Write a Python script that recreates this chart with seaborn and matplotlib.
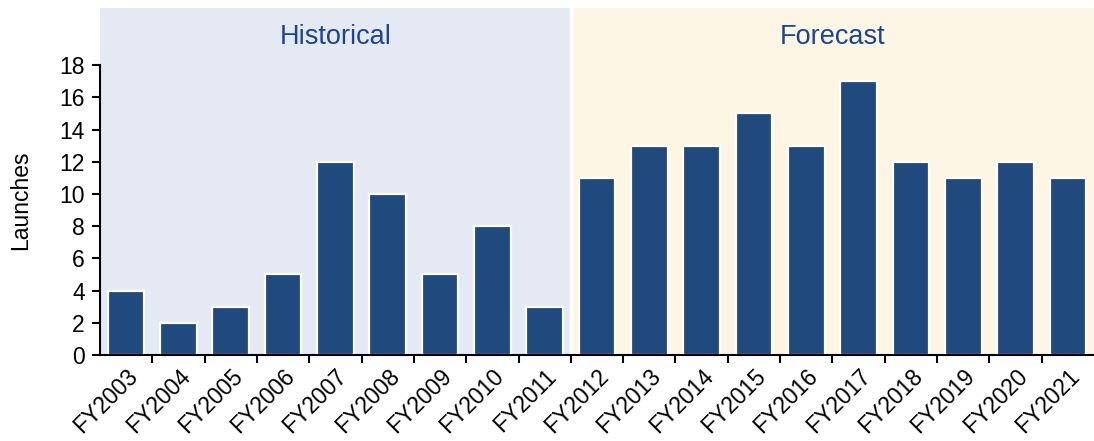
import matplotlib
matplotlib.use("Agg")
import matplotlib.pyplot as plt
import seaborn as sns
import pandas as pd
from matplotlib.ticker import FixedLocator

years = ["FY2003", "FY2004", "FY2005", "FY2006", "FY2007", "FY2008", "FY2009",
         "FY2010", "FY2011", "FY2012", "FY2013", "FY2014", "FY2015", "FY2016",
         "FY2017", "FY2018", "FY2019", "FY2020", "FY2021"]
launches = [4, 2, 3, 5, 12, 10, 5, 8, 3, 11, 13, 13, 15, 13, 17, 12, 11, 12, 11]
periods = ["Historical", "Forecast"]
y_ticks = [0, 2, 4, 6, 8, 10, 12, 14, 16, 18]

n_hist = 9
bar_color = "#204A7E"
hist_bg = "#E5E9F3"
fcst_bg = "#FDF6E4"
title_color = "#1A4594"

sns.set_theme(style="white")
plt.rcParams["font.family"] = ["Liberation Sans", "DejaVu Sans"]
plt.rcParams["text.color"] = "black"
plt.rcParams["axes.labelcolor"] = "black"
plt.rcParams["xtick.color"] = "black"
plt.rcParams["ytick.color"] = "black"

df = pd.DataFrame({"year": years, "launches": launches})

fig = plt.figure(figsize=(10.94, 4.41), dpi=100)
ax = fig.add_axes([100 / 1094, 86 / 441, 994 / 1094, 347 / 441])

ymax = 21.55
ax.axvspan(-0.5, n_hist - 0.5, color=hist_bg, zorder=0, lw=0)
ax.axvspan(n_hist - 0.5, len(years) - 0.5, color=fcst_bg, zorder=0, lw=0)
ax.axvline(n_hist - 0.5, color="white", lw=2.5, zorder=0.5)

sns.barplot(data=df, x="year", y="launches", color=bar_color, saturation=1,
            width=0.7, edgecolor="white", linewidth=1.6, ax=ax, zorder=2)

ax.set_xlim(-0.5, len(years) - 0.5)
ax.set_ylim(0, ymax)
ax.set_facecolor("white")

# period headers
ax.text((n_hist - 1) / 2, 19.75, periods[0], ha="center", va="center",
        fontsize=19.5, color=title_color)
ax.text((n_hist - 0.5 + len(years) - 0.5) / 2, 19.75, periods[1], ha="center",
        va="center", fontsize=19.5, color=title_color)

# spines
for s in ["top", "right"]:
    ax.spines[s].set_visible(False)
ax.spines["left"].set_bounds(0, 18)
ax.spines["left"].set_linewidth(1.5)
ax.spines["bottom"].set_linewidth(1.5)
ax.spines["left"].set_color("black")
ax.spines["bottom"].set_color("black")

ax.set_yticks(y_ticks)
ax.set_yticklabels([str(v) for v in y_ticks], fontsize=16.5)
ax.tick_params(axis="y", direction="out", length=6, width=1.5, color="black",
               labelcolor="black", left=True, pad=5)

# category labels centered, tick marks between categories
ax.set_xticks(range(len(years)))
ax.set_xticklabels(years, rotation=45, ha="right", rotation_mode="anchor",
                   fontsize=16.5)
ax.tick_params(axis="x", which="major", length=0, pad=7, labelcolor="black")
ax.xaxis.set_minor_locator(FixedLocator([i + 0.5 for i in range(len(years) - 1)]))
ax.tick_params(axis="x", which="minor", direction="out", length=6, width=1.5,
               color="black", bottom=True)

ax.set_xlabel("")
ax.set_ylabel("Launches", fontsize=16.5, color="black")
ax.yaxis.set_label_coords(-68 / 994, (355 - 200) / 347)

fig.savefig("out.png", dpi=100)
